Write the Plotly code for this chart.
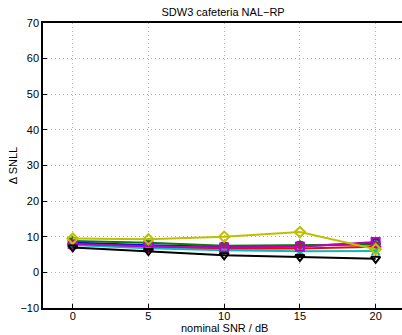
import plotly.graph_objects as go

snr = [0, 5, 10, 15, 20]
blue_vals = [8.4, 7.6, 7.2, 7.4, 8.2]
green_vals = [8.8, 8.3, 7.5, 7.7, 7.8]
red_vals = [7.9, 7.1, 6.6, 6.7, 7.2]
cyan_vals = [7.7, 6.8, 6.2, 5.9, 6.0]
magenta_vals = [8.0, 7.3, 7.0, 7.2, 8.5]
yellow_vals = [9.5, 9.3, 10.0, 11.3, 6.5]
black_vals = [7.0, 6.0, 4.8, 4.3, 3.8]

series = [
    ("blue", blue_vals, "#0000ff", "circle-open"),
    ("green", green_vals, "#008000", "asterisk-open"),
    ("red", red_vals, "#ff0000", "cross-thin-open"),
    ("cyan", cyan_vals, "#00bfbf", "x-thin-open"),
    ("magenta", magenta_vals, "#bf00bf", "square-open"),
    ("yellow", yellow_vals, "#bfbf00", "diamond-open"),
    ("black", black_vals, "#000000", "triangle-down-open"),
]

xticks = [0, 5, 10, 15, 20]
yticks = [-10, 0, 10, 20, 30, 40, 50, 60, 70]

fig = go.Figure()
for name, vals, col, sym in series:
    fig.add_trace(go.Scatter(
        x=snr, y=vals, mode="lines+markers", name=name,
        line=dict(color=col, width=2),
        marker=dict(symbol=sym, size=8, color=col, line=dict(color=col, width=2)),
    ))

font = dict(family="Liberation Sans, Arial, sans-serif", size=11, color="#000000")
fig.update_layout(
    width=402, height=335,
    margin=dict(l=43, r=0, t=23, b=27),
    paper_bgcolor="white", plot_bgcolor="white",
    showlegend=False,
    font=font,
    title=dict(text="SDW3 cafeteria NAL\u2212RP", x=0.555, xanchor="center",
               y=1 - 12 / 335, yanchor="middle", font=dict(size=11)),
    xaxis=dict(
        range=[-1.96, 21.74], tickvals=xticks, ticktext=[str(v) for v in xticks],
        showgrid=True, gridcolor="#b4b4b4", griddash="1px,3px", gridwidth=1,
        showline=True, linecolor="black", linewidth=1.5, mirror=True,
        ticks="inside", ticklen=4, tickcolor="black", zeroline=False,
        ticklabelstandoff=-3,
    ),
    yaxis=dict(
        range=[-10, 70], tickvals=yticks, ticktext=[("\u221210" if v < 0 else str(v)) for v in yticks],
        showgrid=True, gridcolor="#b4b4b4", griddash="1px,3px", gridwidth=1,
        showline=True, linecolor="black", linewidth=1.5, mirror=False,
        ticks="inside", ticklen=4, tickcolor="black", zeroline=False,
        title=dict(text="\u0394 SNLL", standoff=1, font=dict(size=11)),
    ),
    annotations=[dict(text="nominal SNR / dB", xref="paper", yref="paper",
                      x=0.505, y=-20 / 285, xanchor="center", yanchor="middle",
                      showarrow=False, font=dict(size=11))],
)

fig.write_html("out.html")
